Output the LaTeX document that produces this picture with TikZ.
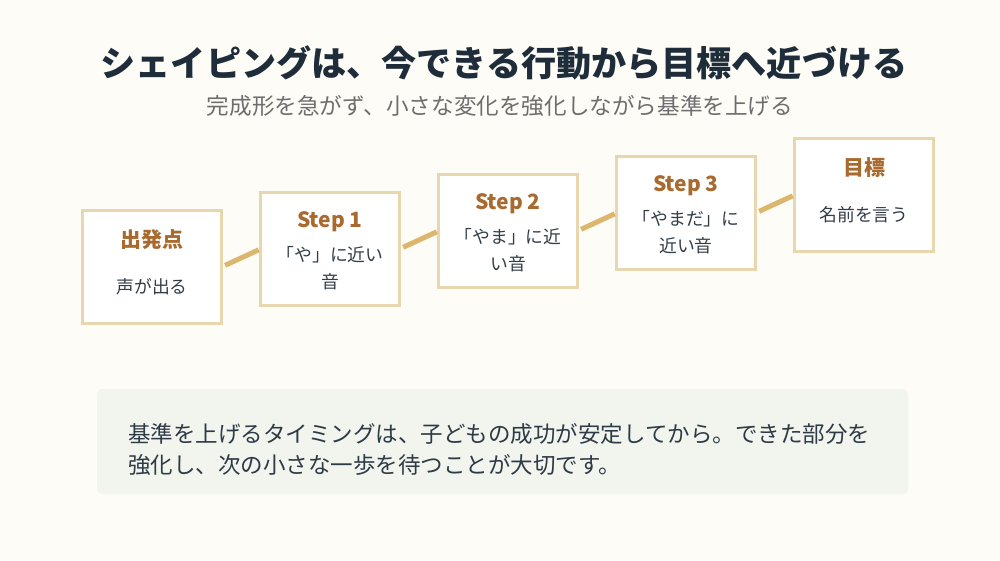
\documentclass[tikz,border=0pt]{standalone}
\usepackage{fontspec}
\setmainfont{Noto Sans CJK JP}
\definecolor{bgc}{HTML}{FDFCF7}
\definecolor{titlec}{HTML}{1F2D3A}
\definecolor{subc}{HTML}{6E6E6E}
\definecolor{boxc}{HTML}{E8D6AE}
\definecolor{connc}{HTML}{DDB66E}
\definecolor{stepc}{HTML}{A86A2E}
\definecolor{descc}{HTML}{333D47}
\definecolor{notefill}{HTML}{F1F5EE}
\definecolor{notec}{HTML}{2E3A46}
\tikzset{
  stepbox/.style={draw=boxc, line width=3pt, fill=white, minimum width=139pt, minimum height=113pt, inner sep=0pt, outer sep=0pt},
  steptitle/.style={text=stepc, font=\fontsize{21}{24}\selectfont\bfseries, inner sep=0pt, anchor=center},
  stepdesc/.style={text=descc, font=\fontsize{17.8}{27}\selectfont, align=center, inner sep=0pt, anchor=center},
  conn/.style={draw=connc, line width=5pt, shorten <=4pt, shorten >=2pt}
}
\begin{document}
\begin{tikzpicture}[x=1pt,y=-1pt]
\fill[bgc] (0,0) rectangle (1000,560);
\useasboundingbox (0,0) rectangle (1000,560);
\node[text=titlec, font=\fontsize{35.1}{40}\selectfont\bfseries, inner sep=0pt] (title) at (504,63) {シェイピングは、今できる行動から目標へ近づける};
\node[text=subc, font=\fontsize{22.6}{26}\selectfont, inner sep=0pt] (sub) at (500,106) {完成形を急がず、小さな変化を強化しながら基準を上げる};
% boxes
\node[stepbox] (b0) at (152,267) {};
\node[stepbox] (b1) at (330,249) {};
\node[stepbox] (b2) at (508,231) {};
\node[stepbox] (b3) at (686,213) {};
\node[stepbox] (b4) at (864,195) {};
\node[steptitle] (t0) at (152,240) {出発点};
\node[stepdesc] (d0) at (152,287) {声が出る};
\node[steptitle] (t1) at (330,222) {Step 1};
\node[stepdesc] (d1) at (330,268.5) {「や」に近い\\音};
\node[steptitle] (t2) at (508,204) {Step 2};
\node[stepdesc] (d2) at (508,250.5) {「やま」に近\\い音};
\node[steptitle] (t3) at (686,186) {Step 3};
\node[stepdesc] (d3) at (686,232.5) {「やまだ」に\\近い音};
\node[steptitle] (t4) at (864,168) {目標};
\node[stepdesc] (d4) at (864,215) {名前を言う};
\draw[conn] (b0.east) -- (b1.west);
\draw[conn] (b1.east) -- (b2.west);
\draw[conn] (b2.east) -- (b3.west);
\draw[conn] (b3.east) -- (b4.west);
% note
\node[fill=notefill, rounded corners=6pt, minimum width=811pt, minimum height=105pt, inner sep=0pt] (note) at (502.5,441.5) {};
\node[text=notec, font=\fontsize{22.5}{31}\selectfont, align=left, anchor=west, inner sep=0pt] (notetext) at (128,449.5) {基準を上げるタイミングは、子どもの成功が安定してから。できた部分を\\強化し、次の小さな一歩を待つことが大切です。};
\end{tikzpicture}
\end{document}
